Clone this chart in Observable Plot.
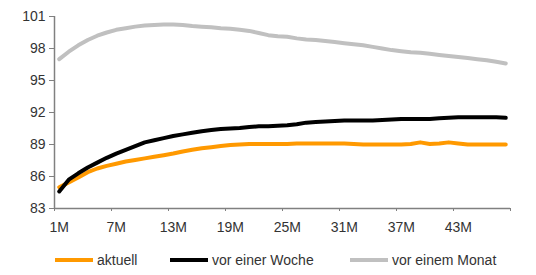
<!DOCTYPE html>
<html>
<head>
<meta charset="utf-8">
<script src="https://cdn.jsdelivr.net/npm/d3@7"></script>
<script src="https://cdn.jsdelivr.net/npm/@observablehq/plot@0.6"></script>
<style>
  html, body { margin: 0; padding: 0; background: #fff; }
  body { width: 536px; height: 275px; font-family: "Liberation Sans", Arial, sans-serif; }
  #chart svg { display: block; }
  .legend { position: relative; height: 39px; font-size: 14px; color: #333; }
  .item { position: absolute; top: 16px; display: flex; align-items: center; }
  .sw { width: 38px; height: 4px; margin-right: 4px; }
</style>
</head>
<body>
<div id="chart"></div>
<div class="legend" id="legend"></div>
<script>
// Months 1..48
const months = d3.range(1, 49);
const xTickLabels = ["1M", "7M", "13M", "19M", "25M", "31M", "37M", "43M"];
const yTicks = [83, 86, 89, 92, 95, 98, 101];
const seriesNames = ["aktuell", "vor einer Woche", "vor einem Monat"];
const seriesColors = ["#FF9900", "#000000", "#C0C0C0"];

const aktuell = [
  85.0, 85.45, 85.9, 86.4, 86.75, 87.0, 87.2, 87.4, 87.55, 87.7,
  87.85, 88.0, 88.15, 88.35, 88.5, 88.65, 88.75, 88.85, 88.95, 89.0,
  89.05, 89.05, 89.05, 89.05, 89.05, 89.1, 89.1, 89.1, 89.1, 89.1,
  89.1, 89.05, 89.0, 89.0, 89.0, 89.0, 89.0, 89.05, 89.2, 89.05,
  89.1, 89.2, 89.1, 89.0, 89.0, 89.0, 89.0, 89.0
];
const vorEinerWoche = [
  84.6, 85.7, 86.3, 86.85, 87.3, 87.75, 88.15, 88.5, 88.85, 89.2,
  89.4, 89.6, 89.8, 89.95, 90.1, 90.25, 90.35, 90.45, 90.5, 90.55,
  90.65, 90.7, 90.7, 90.75, 90.8, 90.9, 91.05, 91.1, 91.15, 91.2,
  91.25, 91.25, 91.25, 91.25, 91.3, 91.35, 91.4, 91.4, 91.4, 91.4,
  91.45, 91.5, 91.55, 91.55, 91.55, 91.55, 91.55, 91.5
];
const vorEinemMonat = [
  97.0, 97.7, 98.3, 98.8, 99.2, 99.5, 99.75, 99.9, 100.05, 100.15,
  100.2, 100.25, 100.25, 100.2, 100.1, 100.05, 100.0, 99.9, 99.85, 99.75,
  99.65, 99.45, 99.25, 99.15, 99.1, 98.95, 98.85, 98.8, 98.7, 98.6,
  98.5, 98.4, 98.3, 98.15, 98.0, 97.85, 97.75, 97.65, 97.6, 97.5,
  97.4, 97.3, 97.2, 97.1, 97.0, 96.9, 96.75, 96.6
];

const allSeries = [aktuell, vorEinerWoche, vorEinemMonat];
const rows = [];
allSeries.forEach((vals, i) => {
  vals.forEach((v, j) => rows.push({ series: seriesNames[i], month: months[j], value: v }));
});

const labelMonths = xTickLabels.map(s => parseInt(s));
const boundaryTicks = d3.range(0.5, 49, 6);

const axisColor = "#808080";
const textColor = "#333333";

const plot = Plot.plot({
  width: 536,
  height: 236,
  marginLeft: 54,
  marginRight: 26,
  marginTop: 16,
  marginBottom: 28,
  style: { fontFamily: "'Liberation Sans', Arial, sans-serif", fontSize: "14px", color: textColor, background: "#fff" },
  x: { domain: [0.5, 48.5] },
  y: { domain: [83, 101] },
  color: { domain: seriesNames, range: seriesColors },
  marks: [
    Plot.axisY({ ticks: yTicks, tickSize: 5, tickPadding: 4, stroke: axisColor, fill: textColor, label: null, fontSize: 14 }),
    Plot.axisX({ ticks: boundaryTicks, tickSize: 3, tickFormat: () => "", stroke: axisColor, label: null }),
    Plot.axisX({ ticks: labelMonths, tickSize: 0, tickPadding: 14, tickFormat: (d) => d + "M", fill: textColor, label: null, fontSize: 14 }),
    Plot.ruleX([0.5], { stroke: axisColor, strokeWidth: 1.5 }),
    Plot.ruleY([83], { stroke: axisColor, strokeWidth: 1.5 }),
    Plot.line(rows, {
      x: "month", y: "value", z: "series", stroke: "series",
      strokeWidth: 4, strokeLinejoin: "round", strokeLinecap: "round"
    })
  ]
});
document.getElementById("chart").appendChild(plot);

// legend
const legendPos = [55, 170, 350];
const legend = document.getElementById("legend");
seriesNames.forEach((name, i) => {
  const item = document.createElement("div");
  item.className = "item";
  item.style.left = legendPos[i] + "px";
  const sw = document.createElement("span");
  sw.className = "sw";
  sw.style.background = seriesColors[i];
  const t = document.createElement("span");
  t.textContent = name;
  item.appendChild(sw);
  item.appendChild(t);
  legend.appendChild(item);
});
</script>
</body>
</html>
